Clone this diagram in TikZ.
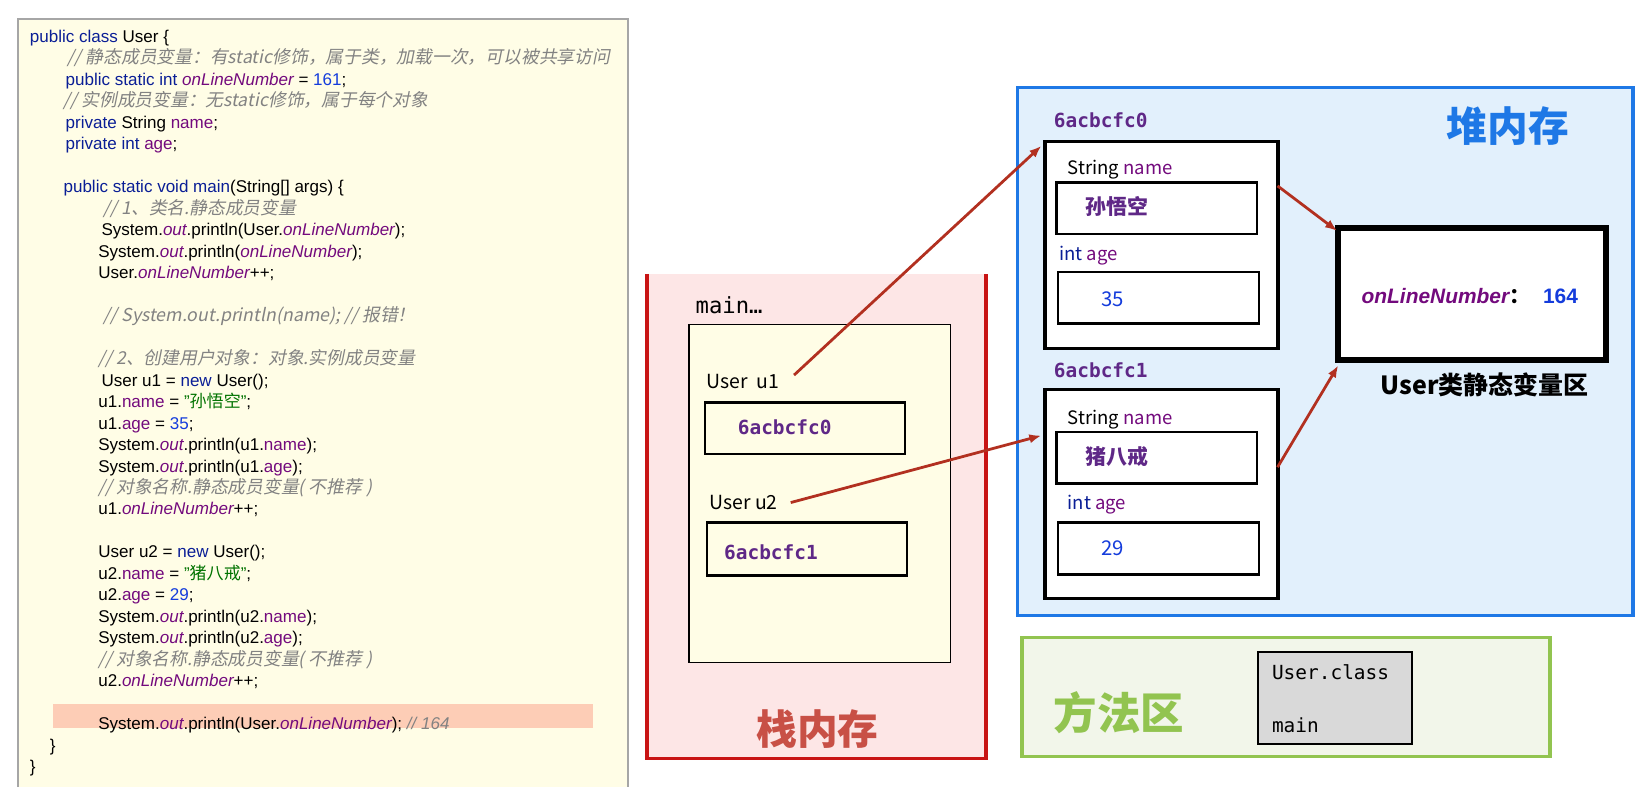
\documentclass[tikz,border=0pt]{standalone}
\usepackage{fontspec}
\setmainfont{Liberation Sans}
\newfontfamily\cjk{Noto Sans CJK SC}
\newfontfamily\cjkit{Noto Sans CJK SC}[FakeSlant=0.2]
\newfontfamily\monof{DejaVu Sans Mono}
\usetikzlibrary{arrows.meta,calc,fit}

\definecolor{kwc}{RGB}{10,30,150}
\definecolor{fldc}{RGB}{115,10,125}
\definecolor{numc}{RGB}{20,60,220}
\definecolor{strc}{RGB}{0,115,0}
\definecolor{cmtc}{RGB}{130,130,130}
\definecolor{codebg}{RGB}{255,253,230}
\definecolor{hlc}{RGB}{253,205,182}
\definecolor{stackfill}{RGB}{253,230,230}
\definecolor{stackline}{RGB}{200,20,20}
\definecolor{stacktitle}{RGB}{200,80,70}
\definecolor{heapfill}{RGB}{226,240,252}
\definecolor{heapline}{RGB}{30,120,230}
\definecolor{methfill}{RGB}{242,246,234}
\definecolor{methline}{RGB}{146,196,80}
\definecolor{arrowc}{RGB}{178,48,32}
\definecolor{addrc}{RGB}{95,40,135}

\newcommand\kw[1]{\textcolor{kwc}{#1}}
\newcommand\fld[1]{\textcolor{fldc}{#1}}
\newcommand\sfld[1]{\textcolor{fldc}{\itshape #1}}
\newcommand\numv[1]{\textcolor{numc}{#1}}
\newcommand\strv[1]{\textcolor{strc}{"{\cjk #1}"}}
\newcommand\cmt[1]{\textcolor{cmtc}{\cjkit\fontsize{9.6}{11}\selectfont #1}}

\begin{document}
\begin{tikzpicture}[x=0.02cm, y=-0.02cm,
    codeline/.style={anchor=base west, inner sep=0pt, font=\fontsize{9.2}{11}\selectfont},
    lbl/.style={anchor=west, inner sep=0pt, font=\cjk\fontsize{10}{12}\selectfont},
    varlbl/.style={anchor=west, inner sep=0pt, font=\cjk\fontsize{10.5}{12}\selectfont},
    addr/.style={anchor=west, inner sep=0pt, text=addrc, font=\monof\bfseries\fontsize{10.5}{12}\selectfont},
    valbox/.style={draw, line width=1.4pt, inner sep=0pt},
    objbox/.style={draw, fill=white, line width=1.8pt, inner sep=0pt},
    ref/.style={draw=arrowc, line width=1.5pt, -{Latex[length=6.5pt,width=5pt]}}]
    \useasboundingbox (0,0) rectangle (1568,747);

    % code listing
    \fill[codebg] (17,18) rectangle (596,747);
    \draw[gray!70, line width=0.8pt] (17,747) -- (17,18) -- (596,18) -- (596,747);
    \fill[hlc] (50,668) rectangle (563,691);
    \node[codeline] (c0) at (28,40) {\kw{public class} User \{};
    \node[codeline] (c1) at (64,60.4) {\cmt{// 静态成员变量：有static修饰，属于类，加载一次，可以被共享访问}};
    \node[codeline] (c2) at (62,80.8) {\kw{public static int} \sfld{onLineNumber} = \numv{161};};
    \node[codeline] (c3) at (60,101.2) {\cmt{// 实例成员变量：无static修饰，属于每个对象}};
    \node[codeline] (c4) at (62,121.6) {\kw{private} String \fld{name};};
    \node[codeline] (c5) at (62,142) {\kw{private int} \fld{age};};
    \node[codeline] (c7) at (60,182.8) {\kw{public static void main}(String[] args) \{};
    \node[codeline] (c8) at (98,203.2) {\cmt{// 1、类名.静态成员变量}};
    \node[codeline] (c9) at (96,223.6) {System.\sfld{out}.println(User.\sfld{onLineNumber});};
    \node[codeline] (c10) at (93,244) {System.\sfld{out}.println(\sfld{onLineNumber});};
    \node[codeline] (c11) at (93,264.4) {User.\sfld{onLineNumber}++;};
    \node[codeline] (c13) at (98,305.2) {\cmt{// System.out.println(name); // 报错！}};
    \node[codeline] (c15) at (93,346) {\cmt{// 2、创建用户对象：对象.实例成员变量}};
    \node[codeline] (c16) at (96,366.4) {User u1 = \kw{new} User();};
    \node[codeline] (c17) at (93,386.8) {u1.\fld{name} = \strv{孙悟空};};
    \node[codeline] (c18) at (93,407.2) {u1.\fld{age} = \numv{35};};
    \node[codeline] (c19) at (93,427.6) {System.\sfld{out}.println(u1.\fld{name});};
    \node[codeline] (c20) at (93,448) {System.\sfld{out}.println(u1.\fld{age});};
    \node[codeline] (c21) at (93,468.4) {\cmt{// 对象名称.静态成员变量( 不推荐 )}};
    \node[codeline] (c22) at (93,488.8) {u1.\sfld{onLineNumber}++;};
    \node[codeline] (c24) at (93,529.6) {User u2 = \kw{new} User();};
    \node[codeline] (c25) at (93,550) {u2.\fld{name} = \strv{猪八戒};};
    \node[codeline] (c26) at (93,570.4) {u2.\fld{age} = \numv{29};};
    \node[codeline] (c27) at (93,590.8) {System.\sfld{out}.println(u2.\fld{name});};
    \node[codeline] (c28) at (93,611.2) {System.\sfld{out}.println(u2.\fld{age});};
    \node[codeline] (c29) at (93,631.6) {\cmt{// 对象名称.静态成员变量( 不推荐 )}};
    \node[codeline] (c30) at (93,652) {u2.\sfld{onLineNumber}++;};
    \node[codeline] (c32) at (93,692.8) {System.\sfld{out}.println(User.\sfld{onLineNumber}); \textcolor{cmtc}{\itshape // 164}};
    \node[codeline] (c33) at (47,713.2) {\}};
    \node[codeline] (c34) at (28,733.6) {\}};

    % stack
    \fill[stackfill] (614,260) rectangle (936,720);
    \draw[stackline, line width=2pt] (614,260) -- (614,720) -- (936,720) -- (936,260);
    \node[anchor=west, inner sep=0pt, font=\monof\fontsize{12}{14}\selectfont] (mainlbl) at (660,290) {main…};
    \node[fit={(654,308) (902,629)}, draw, fill=codebg, line width=0.8pt, inner sep=0pt] (frame) {};
    \node[varlbl] (u1lbl) at (670,362) {User\hspace{0.45em}u1};
    \node[valbox, fit={(669,382) (859,431)}] (u1box) {};
    \node[addr] (u1addr) at (700,406) {6acbcfc0};
    \node[varlbl] (u2lbl) at (673,477) {User u2};
    \node[valbox, fit={(671,496) (861,546)}] (u2box) {};
    \node[addr] (u2addr) at (687,524) {6acbcfc1};
    \node[font=\cjk\bfseries\fontsize{22}{26}\selectfont, text=stacktitle] (stacktitle) at (776,692) {栈内存};

    % heap
    \filldraw[fill=heapfill, draw=heapline, line width=1.7pt] (966,83) rectangle (1550,584);
    \node[font=\cjk\bfseries\fontsize{22}{26}\selectfont, text=heapline] (heaptitle) at (1431,120) {堆内存};
    \node[addr] (o1addr) at (1000,114) {6acbcfc0};
    \node[objbox, fit={(992,134) (1213,331)}] (obj1) {};
    \node[lbl] (n1lbl) at (1013,161) {String \textcolor{fldc}{name}};
    \node[valbox, fit={(1003,173) (1193,222)}] (n1box) {};
    \node[anchor=west, inner sep=0pt, text=addrc, font=\cjk\bfseries\fontsize{11.3}{13}\selectfont] (n1val) at (1030,196) {孙悟空};
    \node[lbl] (g1lbl) at (1005,243) {\textcolor{kwc}{int} \textcolor{fldc}{age}};
    \node[valbox, fit={(1004,258) (1195,307)}] (g1box) {};
    \node[anchor=west, inner sep=0pt, text=numc, font=\cjk\fontsize{11}{13}\selectfont] (g1val) at (1045,284) {35};
    \node[addr] (o2addr) at (1000,351) {6acbcfc1};
    \node[objbox, fit={(992,370) (1213,568)}] (obj2) {};
    \node[lbl] (n2lbl) at (1013,398) {String \textcolor{fldc}{name}};
    \node[valbox, fit={(1003,410) (1193,459)}] (n2box) {};
    \node[anchor=west, inner sep=0pt, text=addrc, font=\cjk\bfseries\fontsize{11.3}{13}\selectfont] (n2val) at (1030,433) {猪八戒};
    \node[lbl] (g2lbl) at (1013,479) {\textcolor{kwc}{int} \textcolor{fldc}{age}};
    \node[valbox, fit={(1004,496) (1195,545)}] (g2box) {};
    \node[anchor=west, inner sep=0pt, text=numc, font=\cjk\fontsize{11}{13}\selectfont] (g2val) at (1045,520) {29};
    \node[fit={(1270,216) (1524,342)}, draw, fill=white, line width=3.2pt, inner sep=0pt] (statbox) {};
    \node[anchor=west, inner sep=0pt, font=\fontsize{11.3}{13}\selectfont] (statval) at (1292,281)
        {{\bfseries\itshape\textcolor{fldc}{onLineNumber}}{\cjk\bfseries ：}\hspace{7pt}{\bfseries\textcolor{numc}{164}}};
    \node[anchor=west, inner sep=0pt, font=\cjk\bfseries\fontsize{13.5}{16}\selectfont] (statlbl) at (1310,365) {User类静态变量区};

    % method area
    \filldraw[fill=methfill, draw=methline, line width=2pt] (970,605) rectangle (1471,718);
    \node[font=\cjk\bfseries\fontsize{23.5}{28}\selectfont, text=methline] (methtitle) at (1062,676) {方法区};
    \node[fit={(1194,619) (1340,706)}, draw, fill=gray!30, line width=0.9pt, inner sep=0pt] (classbox) {};
    \node[anchor=west, inner sep=0pt, font=\monof\fontsize{10.5}{12}\selectfont] (classlbl) at (1207,638) {User.class};
    \node[anchor=west, inner sep=0pt, font=\monof\fontsize{10.5}{12}\selectfont] (mainref) at (1207,688) {main};

    % references
    \draw[ref] ($(u1lbl.east)+(14,-6)$) -- ($(obj1.north west)+(-2,6)$);
    \draw[ref] ($(u2lbl.east)+(12,0)$) -- ($(obj2.north west)+(-2,45)$);
    \draw[ref] ($(obj1.north east)+(-2,44)$) -- ($(statbox.north west)+(2,6)$);
    \draw[ref] ($(obj2.north east)+(-2,75)$) -- ($(statbox.south west)+(3,2)$);
\end{tikzpicture}
\end{document}
